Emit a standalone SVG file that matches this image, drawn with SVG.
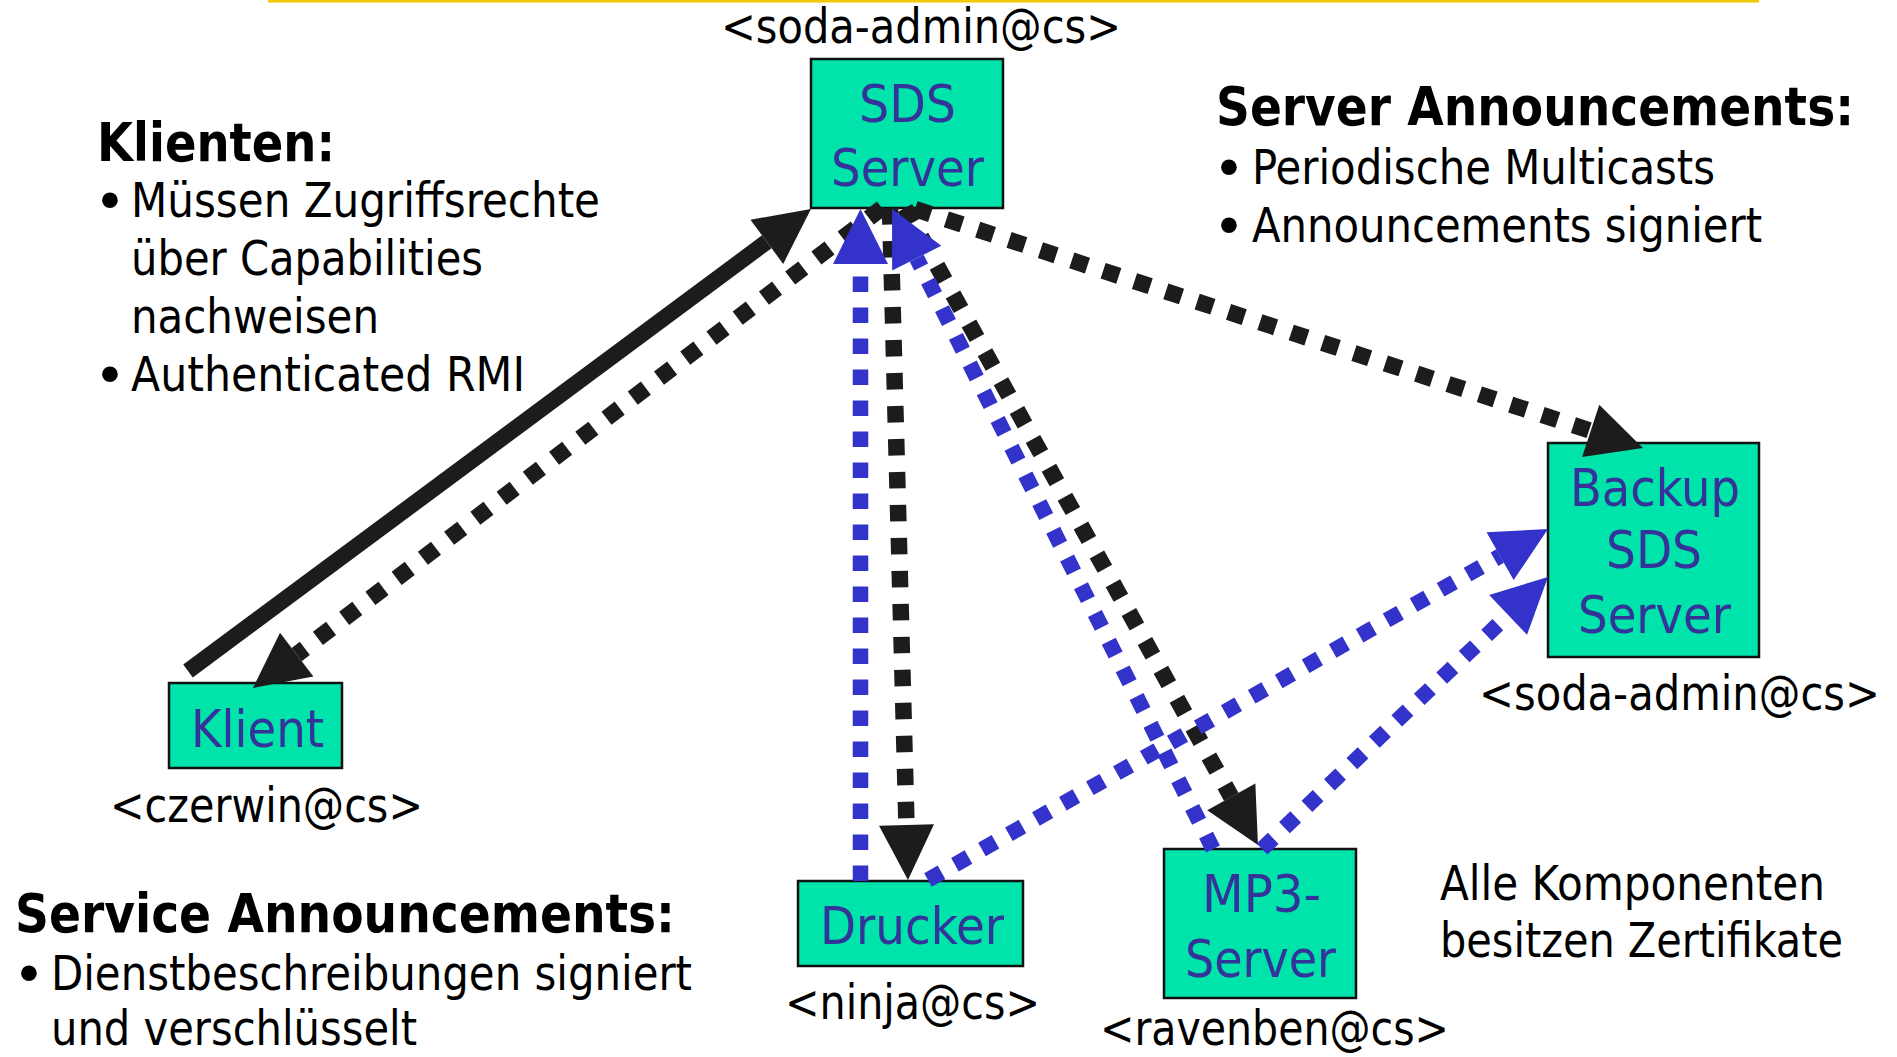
<svg xmlns="http://www.w3.org/2000/svg" width="1897" height="1057" viewBox="0 0 1897 1057">
  <defs>
    <style>
      .box { fill: #00E3AA; stroke: #111; stroke-width: 2.5; }
      .nt { font-family: "DejaVu Sans Condensed", "DejaVu Sans", sans-serif; font-stretch: condensed; font-size: 52px; fill: #333399; }
      .lb { font-family: "DejaVu Sans Condensed", "DejaVu Sans", sans-serif; font-stretch: condensed; font-size: 48px; fill: #000; }
      .hd { font-family: "DejaVu Sans Condensed", "DejaVu Sans", sans-serif; font-stretch: condensed; font-size: 53px; font-weight: bold; fill: #000; }
      .bu { font-family: "DejaVu Sans", sans-serif; font-size: 54px; fill: #000; }
      .blk { fill: none; stroke: #1c1c1c; stroke-width: 16.5; stroke-dasharray: 16.5 16.5; }
      .blu { fill: none; stroke: #3333CC; stroke-width: 15.5; stroke-dasharray: 15.5 15.5; }
      .sol { fill: none; stroke: #1c1c1c; stroke-width: 16; }
    </style>
    <marker id="ahBlack" markerUnits="userSpaceOnUse" orient="auto" refX="0" refY="0" markerWidth="60" markerHeight="60" overflow="visible">
      <path d="M0,-27.5 L55,0 L0,27.5 Z" fill="#1c1c1c"/>
    </marker>
    <marker id="ahBlue" markerUnits="userSpaceOnUse" orient="auto" refX="0" refY="0" markerWidth="60" markerHeight="60" overflow="visible">
      <path d="M0,-27.5 L55,0 L0,27.5 Z" fill="#3333CC"/>
    </marker>
  </defs>

  <rect width="1897" height="1057" fill="#fff"/>
  <!-- top rule -->
  <rect x="268" y="0" width="1491" height="2.5" fill="#F2C800"/>

  <!-- side notes -->
  <g id="note-klienten">
    <text class="hd" x="97" y="161" textLength="238" lengthAdjust="spacingAndGlyphs">Klienten:</text>
    <text class="bu" x="94" y="220">•</text>
    <text class="lb" x="131" y="217" textLength="469" lengthAdjust="spacingAndGlyphs">Müssen Zugriffsrechte</text>
    <text class="lb" x="131" y="275" textLength="352" lengthAdjust="spacingAndGlyphs">über Capabilities</text>
    <text class="lb" x="131" y="333" textLength="248" lengthAdjust="spacingAndGlyphs">nachweisen</text>
    <text class="bu" x="94" y="394">•</text>
    <text class="lb" x="131" y="391" textLength="394" lengthAdjust="spacingAndGlyphs">Authenticated RMI</text>
  </g>

  <g id="note-server">
    <text class="hd" x="1216" y="125" textLength="638" lengthAdjust="spacingAndGlyphs">Server Announcements:</text>
    <text class="bu" x="1213" y="187">•</text>
    <text class="lb" x="1252" y="184" textLength="463" lengthAdjust="spacingAndGlyphs">Periodische Multicasts</text>
    <text class="bu" x="1213" y="245">•</text>
    <text class="lb" x="1252" y="242" textLength="510" lengthAdjust="spacingAndGlyphs">Announcements signiert</text>
  </g>

  <g id="note-service">
    <text class="hd" x="15" y="932" textLength="660" lengthAdjust="spacingAndGlyphs">Service Announcements:</text>
    <text class="bu" x="13" y="993">•</text>
    <text class="lb" x="51" y="990" textLength="641" lengthAdjust="spacingAndGlyphs">Dienstbeschreibungen signiert</text>
    <text class="lb" x="51" y="1045" textLength="366" lengthAdjust="spacingAndGlyphs">und verschlüsselt</text>
  </g>

  <g id="note-zertifikate">
    <text class="lb" x="1440" y="900" textLength="385" lengthAdjust="spacingAndGlyphs">Alle Komponenten</text>
    <text class="lb" x="1440" y="957" textLength="403" lengthAdjust="spacingAndGlyphs">besitzen Zertifikate</text>
  </g>

  <!-- nodes -->
  <g id="sds-server">
    <rect class="box" x="811" y="59" width="192" height="149"/>
    <text class="nt" x="859" y="122" textLength="97" lengthAdjust="spacingAndGlyphs">SDS</text>
    <text class="nt" x="831" y="186" textLength="153" lengthAdjust="spacingAndGlyphs">Server</text>
    <text class="lb" x="721" y="43" textLength="400" lengthAdjust="spacingAndGlyphs">&lt;soda-admin@cs&gt;</text>
  </g>

  <g id="klient">
    <rect class="box" x="169" y="683" width="173" height="85"/>
    <text class="nt" x="191" y="747" textLength="133" lengthAdjust="spacingAndGlyphs">Klient</text>
    <text class="lb" x="110" y="822" textLength="313" lengthAdjust="spacingAndGlyphs">&lt;czerwin@cs&gt;</text>
  </g>

  <g id="drucker">
    <rect class="box" x="798" y="881" width="225" height="85"/>
    <text class="nt" x="820" y="944" textLength="184" lengthAdjust="spacingAndGlyphs">Drucker</text>
    <text class="lb" x="785" y="1019" textLength="255" lengthAdjust="spacingAndGlyphs">&lt;ninja@cs&gt;</text>
  </g>

  <g id="mp3-server">
    <rect class="box" x="1164" y="849" width="192" height="149"/>
    <text class="nt" x="1202" y="912" textLength="119" lengthAdjust="spacingAndGlyphs">MP3-</text>
    <text class="nt" x="1185" y="977" textLength="151" lengthAdjust="spacingAndGlyphs">Server</text>
    <text class="lb" x="1100" y="1045" textLength="349" lengthAdjust="spacingAndGlyphs">&lt;ravenben@cs&gt;</text>
  </g>

  <g id="backup-sds-server">
    <rect class="box" x="1548" y="443" width="211" height="214"/>
    <text class="nt" x="1570" y="506" textLength="170" lengthAdjust="spacingAndGlyphs">Backup</text>
    <text class="nt" x="1606" y="568" textLength="96" lengthAdjust="spacingAndGlyphs">SDS</text>
    <text class="nt" x="1578" y="633" textLength="153" lengthAdjust="spacingAndGlyphs">Server</text>
    <text class="lb" x="1479" y="710" textLength="401" lengthAdjust="spacingAndGlyphs">&lt;soda-admin@cs&gt;</text>
  </g>

  <!-- connectors -->
  <g id="connectors">
    <!-- Klient -> SDS (authenticated RMI) -->
    <path class="sol" d="M188,671 L766.8,241.8" marker-end="url(#ahBlack)"/>
    <!-- SDS -> Klient -->
    <path class="blk" d="M882,208 L296.7,654.6" marker-end="url(#ahBlack)"/>
    <!-- SDS -> Drucker -->
    <path class="blk" d="M890,208 L906.5,825" marker-end="url(#ahBlack)"/>
    <!-- SDS -> MP3-Server -->
    <path class="blk" d="M905,208 L1231.3,796.9" marker-end="url(#ahBlack)"/>
    <!-- SDS -> Backup SDS Server -->
    <path class="blk" d="M915,209 L1590.7,430.8" marker-end="url(#ahBlack)"/>
    <!-- Drucker -> SDS -->
    <path class="blu" d="M860.5,881 L860.5,264" marker-end="url(#ahBlue)"/>
    <!-- MP3-Server -> SDS -->
    <path class="blu" d="M1213,849 L916.7,258.2" marker-end="url(#ahBlue)"/>
    <!-- Drucker -> Backup -->
    <path class="blu" d="M928,880 L1500.1,556.1" marker-end="url(#ahBlue)"/>
    <!-- MP3-Server -> Backup -->
    <path class="blu" d="M1262,849 L1508.1,614.9" marker-end="url(#ahBlue)"/>
  </g>
</svg>
